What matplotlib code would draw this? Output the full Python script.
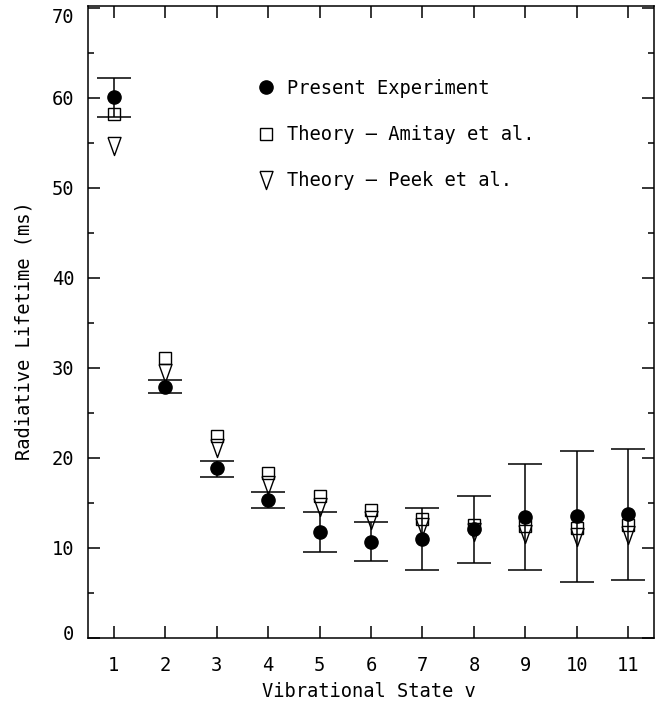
import matplotlib
matplotlib.use("Agg")
import matplotlib.pyplot as plt
from matplotlib.lines import Line2D
from matplotlib.transforms import ScaledTranslation
import numpy as np

plt.rcParams['font.family'] = ['DejaVu Sans Mono', 'DejaVu Sans']

states = [1, 2, 3, 4, 5, 6, 7, 8, 9, 10, 11]
experiment = [60.1, 27.9, 18.9, 15.3, 11.8, 10.7, 11.0, 12.1, 13.4, 13.6, 13.8]
err_upper = [62.2, 28.7, 19.7, 16.2, 14.0, 12.9, 14.4, 15.8, 19.3, 20.8, 21.0]
err_lower = [57.9, 27.2, 17.9, 14.4, 9.6, 8.5, 7.5, 8.3, 7.5, 6.2, 6.4]
amitay = [58.2, 31.1, 22.4, 18.3, 15.8, 14.2, 13.2, 12.6, 12.4, 12.2, 12.5]
peek = [54.6, 29.4, 21.1, 17.0, 14.6, 13.1, 12.3, 11.8, 11.6, 11.2, 11.4]

x = np.array(states)
exp = np.array(experiment)
yerr = np.vstack([exp - np.array(err_lower), np.array(err_upper) - exp])

FS = 13.5

fig = plt.figure(figsize=(6.72, 7.06), dpi=100)
ax = fig.add_axes([88/672, 1 - 638/706, (654-88)/672, (638-6)/706])

# tall narrow down-pointing triangle
tri = [(-0.36, 0.5), (0.36, 0.5), (0.0, -0.5), (-0.36, 0.5)]

ax.errorbar(x, exp, yerr=yerr, fmt='none', ecolor='black', elinewidth=1.1,
            capsize=12.3, capthick=1.1, zorder=2)
ax.plot(x, amitay, linestyle='none', marker='s', markersize=8.5,
        markerfacecolor='none', markeredgecolor='black', markeredgewidth=1.0, zorder=3)
ax.plot(x, peek, linestyle='none', marker=tri, markersize=13,
        markerfacecolor='none', markeredgecolor='black', markeredgewidth=1.0, zorder=3)
ax.plot(x, exp, linestyle='none', marker='o', markersize=9.5,
        markerfacecolor='black', markeredgecolor='black', zorder=4)

ax.set_xlim(0.5, 11.5)
ax.set_ylim(0, 70.2)
ax.set_xticks(states)
ax.set_yticks(np.arange(0, 71, 10))
ax.set_yticks(np.arange(5, 70, 10), minor=True)

for sp in ax.spines.values():
    sp.set_linewidth(1.1)

ax.tick_params(axis='both', which='major', direction='in', length=8.5, width=1.1,
               top=True, right=True, labelsize=FS)
ax.tick_params(axis='x', which='major', pad=13)
ax.tick_params(axis='y', which='major', pad=10)
ax.tick_params(axis='y', which='minor', direction='in', length=4.5, width=1.1,
               left=True, right=True)
ax.tick_params(axis='x', which='minor', bottom=False, top=False)

ax.set_xlabel('Vibrational State v', fontsize=FS)
ax.set_ylabel('Radiative Lifetime (ms)', fontsize=FS)
ax.xaxis.set_label_coords((369-88)/566, -(682-638)/632)
ax.yaxis.set_label_coords((34-88)/566, (638-331)/632)

handles = [
    Line2D([], [], linestyle='none', marker='o', markersize=9.5, color='black'),
    Line2D([], [], linestyle='none', marker='s', markersize=8.5, markerfacecolor='none',
           markeredgecolor='black', markeredgewidth=1.0),
    Line2D([], [], linestyle='none', marker=tri, markersize=13, markerfacecolor='none',
           markeredgecolor='black', markeredgewidth=1.0),
]
labels = ['Present Experiment', 'Theory \u2013 Amitay et al.', 'Theory \u2013 Peek et al.']
ax.legend(handles, labels, frameon=False, loc='upper left',
          bbox_to_anchor=((257-88)/566, 1 - (79-6)/632), fontsize=FS,
          handlelength=1.0, handletextpad=0.6, labelspacing=1.45, borderpad=0,
          borderaxespad=0)

fig.canvas.draw()
# keep the end labels inside the frame, as in the reference
ylabs = ax.yaxis.get_majorticklabels()
ylabs[-1].set_transform(ylabs[-1].get_transform() + ScaledTranslation(0, -8/100, fig.dpi_scale_trans))
ylabs[0].set_transform(ylabs[0].get_transform() + ScaledTranslation(0, 6/100, fig.dpi_scale_trans))

fig.savefig('out.png', dpi=100)
